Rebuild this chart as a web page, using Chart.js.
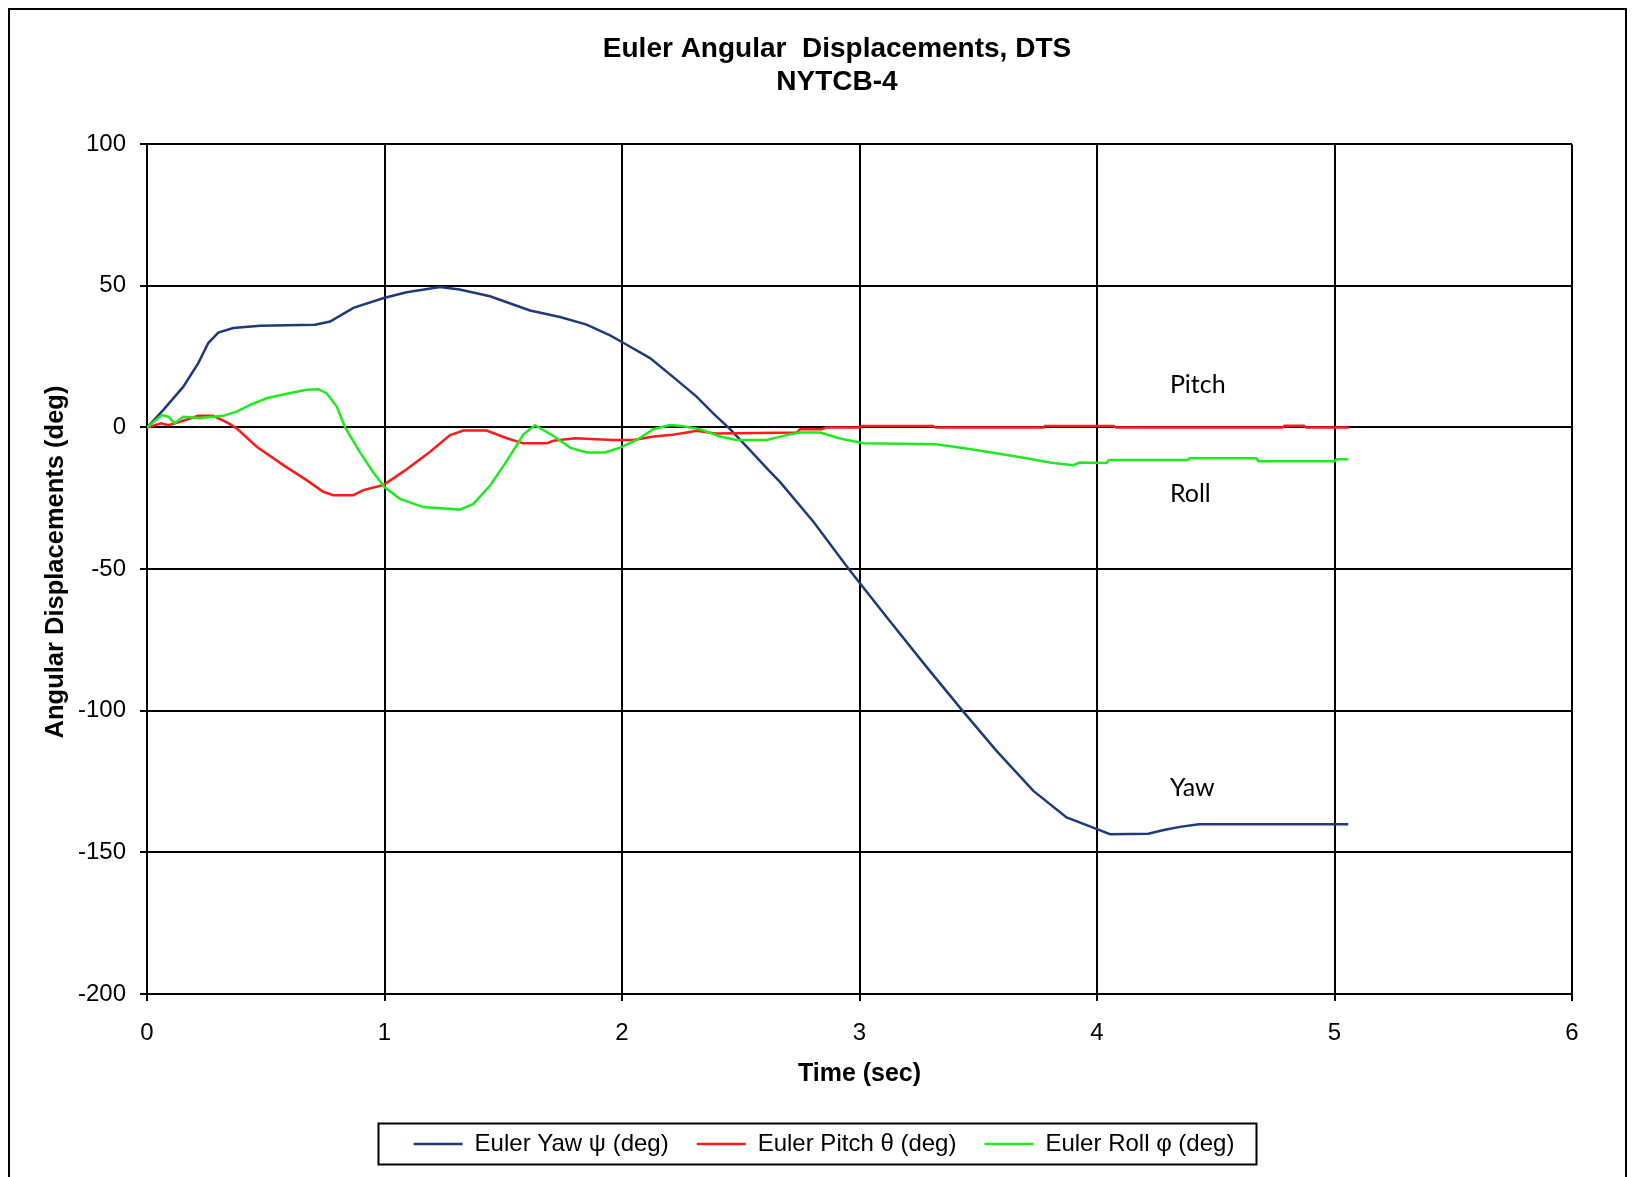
<!DOCTYPE html>
<html>
<head>
<meta charset="utf-8">
<script src="https://cdn.jsdelivr.net/npm/chart.js@4.4.1/dist/chart.umd.min.js"></script>
<style>
  html, body { margin: 0; padding: 0; background: #fff; }
</style>
</head>
<body>
<canvas id="grafico" width="1633" height="1177"></canvas>
<script>
// tempos (s) e ângulos (deg)
const yawTime = [0, 0.069, 0.153, 0.216, 0.258, 0.300, 0.363, 0.476, 0.707, 0.771, 0.869, 0.997, 1.093, 1.234, 1.316, 1.444, 1.613, 1.739, 1.851, 1.95, 2.003, 2.118, 2.230, 2.314, 2.384, 2.455, 2.525, 2.616, 2.665, 2.806, 2.953, 3.114, 3.283, 3.430, 3.576, 3.732, 3.872, 4.000, 4.055, 4.216, 4.286, 4.349, 4.429, 5.058];
const yawDeg = [0, 6.2, 14.4, 22.7, 29.8, 33.5, 35.1, 35.9, 36.3, 37.4, 42.2, 45.7, 47.7, 49.6, 48.7, 46.3, 41.3, 39.0, 36.3, 32.5, 30.0, 24.5, 16.8, 10.9, 5.0, -0.6, -6.8, -15.0, -19.2, -33.3, -49.8, -66.9, -84.6, -99.6, -114.1, -128.3, -137.7, -141.8, -143.6, -143.4, -142.0, -141.0, -140.1, -140.1];

const pitchTime = [0, 0.06, 0.09, 0.139, 0.216, 0.279, 0.342, 0.377, 0.462, 0.574, 0.672, 0.742, 0.784, 0.869, 0.911, 0.995, 1.079, 1.192, 1.276, 1.332, 1.430, 1.515, 1.585, 1.683, 1.711, 1.802, 1.963, 2.048, 2.132, 2.202, 2.272, 2.314, 2.392, 2.736, 2.75, 2.84, 2.86, 3.0, 3.01, 3.31, 3.32, 3.775, 3.78, 4.07, 4.08, 4.78, 4.79, 4.87, 4.88, 5.06];
const pitchDeg = [0, 1.5, 0.8, 2.0, 4.1, 4.1, 1.5, -0.3, -6.8, -13.3, -18.6, -22.7, -23.9, -23.9, -22.1, -20.3, -15.6, -8.6, -2.7, -1.1, -1.1, -3.8, -5.6, -5.6, -4.7, -3.8, -4.4, -4.4, -3.2, -2.7, -1.8, -1.2, -2.1, -1.8, -0.6, -0.6, 0, 0, 0.5, 0.5, 0, 0, 0.5, 0.5, 0, 0, 0.6, 0.6, 0, 0];

const rollTime = [0, 0.062, 0.09, 0.116, 0.153, 0.223, 0.321, 0.377, 0.434, 0.504, 0.588, 0.672, 0.721, 0.756, 0.799, 0.834, 0.897, 0.953, 1.002, 1.065, 1.163, 1.318, 1.374, 1.444, 1.515, 1.585, 1.634, 1.711, 1.781, 1.851, 1.928, 1.992, 2.062, 2.132, 2.202, 2.251, 2.328, 2.413, 2.482, 2.609, 2.693, 2.75, 2.834, 2.918, 3.016, 3.323, 3.449, 3.562, 3.703, 3.80, 3.90, 3.928, 4.04, 4.05, 4.38, 4.39, 4.67, 4.68, 5.0, 5.01, 5.058];
const rollDeg = [0, 4.4, 3.8, 1.5, 3.8, 3.3, 4.1, 5.6, 8.0, 10.3, 11.9, 13.3, 13.5, 12.1, 7.4, 0, -8.8, -15.9, -21.2, -25.2, -28.1, -29.0, -27.0, -20.6, -11.8, -2.4, 0.8, -3.0, -7.1, -8.8, -8.8, -7.1, -4.4, -0.6, 0.9, 0.5, -0.6, -3.2, -4.4, -4.4, -2.7, -1.8, -1.8, -3.9, -5.6, -5.9, -7.4, -8.9, -10.9, -12.4, -13.3, -12.4, -12.5, -11.5, -11.5, -10.9, -10.9, -11.9, -11.9, -11.2, -11.2];

// legendas e rótulos
const seriesNames = ["Euler Yaw ψ (deg)", "Euler Pitch θ (deg)", "Euler Roll φ (deg)"];
const seriesColors = ["#1F3A7A", "#FF1A1A", "#1EEB1E"];
const xTicks = [0, 1, 2, 3, 4, 5, 6];
const yTicks = [-200, -150, -100, -50, 0, 50, 100];
// texto solto dentro do gráfico: [texto, tempo, graus]
const curveLabels = [["Pitch", 4.307, 15.0], ["Roll", 4.307, -23.3], ["Yaw", 4.307, -127.1]];

function toPoints(ts, vs) {
  return ts.map((t, i) => ({ x: t, y: vs[i] }));
}

const series = [toPoints(yawTime, yawDeg), toPoints(pitchTime, pitchDeg), toPoints(rollTime, rollDeg)];

const SANS = "'Liberation Sans', Arial, sans-serif";

// moldura externa, caixa da legenda e nomes das curvas
const extras = {
  id: "extras",
  beforeDraw(chart) {
    const c = chart.ctx;
    c.save();
    c.fillStyle = "#fff";
    c.fillRect(0, 0, chart.width, chart.height);
    c.restore();
  },
  afterLayout(chart) {
    // desloca título e legenda como no original
    const lg = chart.legend;
    lg.left += 28;
    lg.right += 28;
    const tb = chart.titleBlock;
    tb.left += 41;
    tb.right += 41;
  },
  afterDraw(chart) {
    const c = chart.ctx;
    c.save();
    c.strokeStyle = "#000";
    c.lineWidth = 2;
    c.strokeRect(9, 9, chart.width - 16, chart.height - 8);
    const lg = chart.legend;
    const hb = lg.legendHitBoxes[0];
    const cx = (lg.left + lg.right) / 2 - 7;
    const cy = hb.top + hb.height / 2;
    c.strokeRect(Math.round(cx - 439) + 0.5, Math.round(cy - 21) + 0.5, 878, 41);
    c.restore();
  },
  afterDatasetsDraw(chart) {
    const c = chart.ctx;
    const xs = chart.scales.x, ys = chart.scales.y;
    c.save();
    c.font = "25px Lato, 'Open Sans', sans-serif";
    c.fillStyle = "#000";
    c.textAlign = "left";
    c.textBaseline = "middle";
    curveLabels.forEach(([txt, t, v]) => {
      c.fillText(txt, xs.getPixelForValue(t), ys.getPixelForValue(v));
    });
    c.restore();
  },
};

new Chart(document.getElementById("grafico"), {
  type: "line",
  data: {
    datasets: series.map((pts, i) => ({
      label: seriesNames[i],
      data: pts,
      borderColor: seriesColors[i],
      backgroundColor: seriesColors[i],
      borderWidth: 2.5,
      pointRadius: 0,
      pointStyle: "line",
      tension: 0,
      order: 3 - i,
    })),
  },
  options: {
    responsive: false,
    animation: false,
    devicePixelRatio: 1,
    layout: { padding: { top: 10, left: 20, right: 61, bottom: 11 } },
    plugins: {
      title: {
        display: true,
        text: ["Euler Angular  Displacements, DTS", "NYTCB-4"],
        color: "#000",
        font: { family: SANS, size: 28, weight: "bold", lineHeight: 1.2 },
        padding: { top: 22, bottom: 45 },
      },
      legend: {
        position: "bottom",
        labels: {
          color: "#000",
          font: { family: SANS, size: 24 },
          usePointStyle: true,
          pointStyleWidth: 49,
          padding: 28,
          sort: (a, b) => a.datasetIndex - b.datasetIndex,
        },
      },
      tooltip: { enabled: false },
    },
    scales: {
      x: {
        type: "linear",
        min: 0,
        max: 6,
        afterBuildTicks: (s) => { s.ticks = xTicks.map((v) => ({ value: v })); },
        afterFit: (s) => { s.height = 110; },
        ticks: { color: "#000", font: { family: SANS, size: 24 }, padding: 18 },
        grid: { color: "#000", lineWidth: 2, tickLength: 7 },
        border: { color: "#000", width: 2 },
        title: {
          display: true,
          text: "Time (sec)",
          color: "#000",
          font: { family: SANS, size: 25, weight: "bold" },
          padding: { top: 0, bottom: 15 },
        },
      },
      y: {
        min: -200,
        max: 100,
        afterBuildTicks: (s) => { s.ticks = yTicks.map((v) => ({ value: v })); },
        afterFit: (s) => { s.width = 127; },
        ticks: { color: "#000", font: { family: SANS, size: 24 }, padding: 14 },
        grid: { color: "#000", lineWidth: 2, tickLength: 7 },
        border: { color: "#000", width: 2 },
        title: {
          display: true,
          text: "  Angular Displacements (deg)",
          color: "#000",
          font: { family: SANS, size: 25.5, weight: "bold" },
          padding: { top: 21, bottom: 0 },
        },
      },
    },
  },
  plugins: [extras],
});
</script>
</body>
</html>
